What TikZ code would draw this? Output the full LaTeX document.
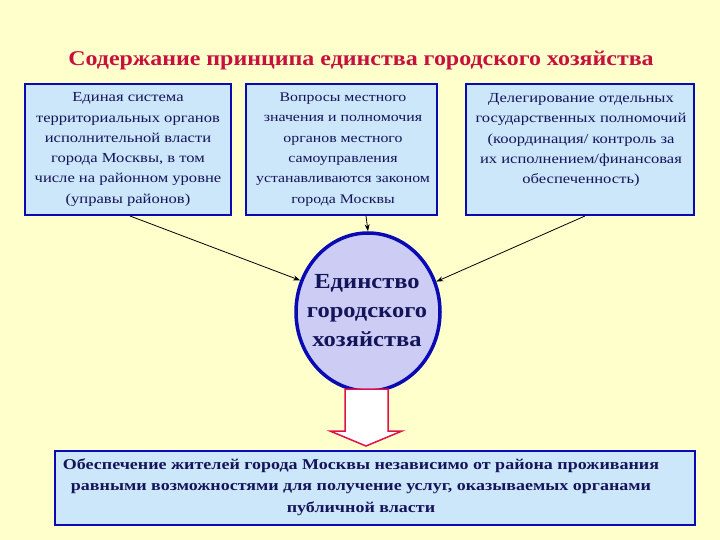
\documentclass[tikz,border=0pt]{standalone}
\usepackage{fontspec}
\setmainfont{Liberation Serif}
\newfontfamily\widefont[FakeStretch=1.2]{Liberation Serif}
\newfontfamily\titlefont[FakeStretch=1.14]{Liberation Serif}
\usetikzlibrary{arrows.meta,shapes.geometric}
\definecolor{bg}{HTML}{FFFFCC}
\definecolor{boxfill}{HTML}{CCE6FA}
\definecolor{boxline}{HTML}{0A0AB4}
\definecolor{txt}{HTML}{14145A}
\definecolor{titlecol}{HTML}{C8103C}
\definecolor{circfill}{HTML}{CCCCF5}
\definecolor{arrline}{HTML}{E0104A}
\tikzset{
  topbox/.style={draw=boxline, line width=2.5pt, fill=boxfill, inner sep=0pt},
  boxtext/.style={text=txt, font=\widefont\fontsize{13.8}{20.3}\selectfont, align=center},
  conn/.style={-{Stealth[length=7pt,width=5pt]}, line width=0.8pt, black},
}
\begin{document}
\begin{tikzpicture}[x=1pt,y=-1pt]
\useasboundingbox (0,0) rectangle (720,540);
\fill[bg] (0,0) rectangle (720,540);
\node[text=titlecol, font=\titlefont\fontsize{21}{24}\bfseries\selectfont] (title) at (361,61) {Содержание принципа единства городского хозяйства};

\draw[topbox] (25,84) rectangle (231,215);
\draw[topbox] (246,84) rectangle (437,215);
\draw[topbox] (466,84) rectangle (694,215);
\coordinate (b1) at (130,216);
\coordinate (b2) at (366,216);
\coordinate (b3) at (585,216);

\node[boxtext] (t1) at (128,149.5) {Единая система\\территориальных органов\\исполнительной власти\\города Москвы, в том\\числе на районном уровне\\(управы районов)};
\node[boxtext, font=\widefont\fontsize{13.2}{20.3}\selectfont] (t2) at (343,149.5) {Вопросы местного\\значения и полномочия\\органов местного\\самоуправления\\устанавливаются законом\\города Москвы};
\node[boxtext] (t3) at (581,140) {Делегирование отдельных\\государственных полномочий\\(координация/ контроль за\\их исполнением/финансовая\\обеспеченность)};

\node[ellipse, draw=boxline, line width=3.5pt, fill=circfill, minimum width=144pt, minimum height=158pt, inner sep=0pt] (c) at (368,312) {};
\node[text=txt, font=\titlefont\fontsize{21.5}{29}\bfseries\selectfont, align=center] (ct) at (367,311) {Единство\\городского\\хозяйства};

\draw[conn] (b1) -- (c.155);
\draw[conn] (b2) -- (c.north);
\draw[conn] (b3) -- (c.24);

\draw[arrline, line width=1.5pt, fill=white, line join=miter] (345,389) -- (388,389) -- (388,431) -- (402,431) -- (366,446) -- (330,431) -- (345,431) -- cycle;

\draw[topbox] (55,451) rectangle (695,525);
\node[text=txt, font=\widefont\fontsize{15}{21.5}\bfseries\selectfont, align=center] (bt) at (361,487) {Обеспечение жителей города Москвы независимо от района проживания\\равными возможностями для получение услуг, оказываемых органами\\публичной власти};
\end{tikzpicture}
\end{document}
